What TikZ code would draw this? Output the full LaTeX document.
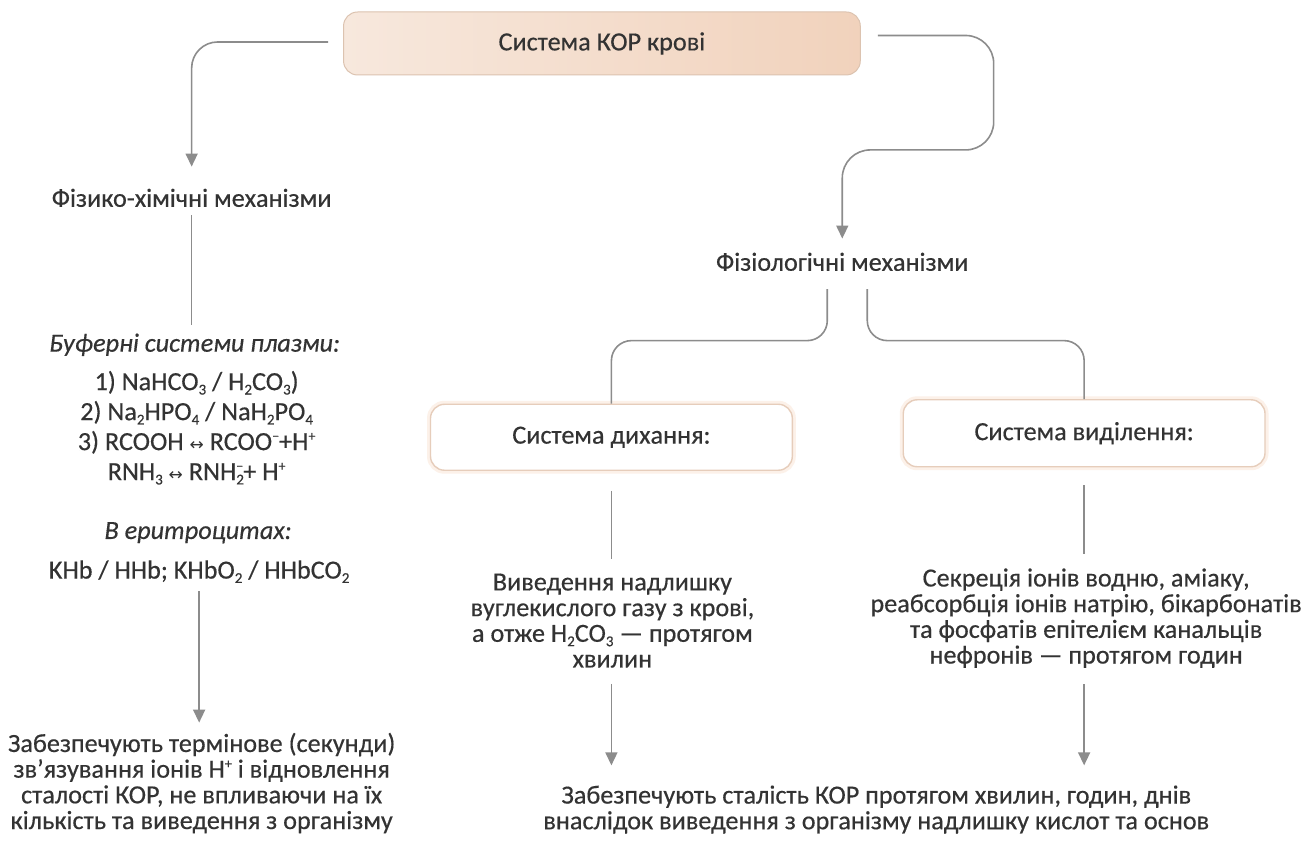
\documentclass[tikz,border=0pt]{standalone}
\usepackage{fontspec}
\setmainfont{Carlito}[FakeBold=0.4]
\newfontfamily\symb{DejaVu Sans}
\usetikzlibrary{arrows.meta}

\definecolor{ink}{HTML}{333333}
\definecolor{wirecol}{HTML}{8C8C8C}
\definecolor{korlight}{HTML}{F7E8DD}
\definecolor{kordark}{HTML}{F1D2BC}
\definecolor{korline}{HTML}{DCC3B0}
\definecolor{boxline}{HTML}{E6CDBB}
\definecolor{boxglow}{HTML}{FCF1E9}

% text settings: tight lines, as in the printed scheme
\newcommand{\nodefont}{\fontsize{26.2}{25.7}\selectfont\lineskiplimit-30pt\relax}
\newcommand{\listfont}{\fontsize{26.2}{30}\selectfont\lineskiplimit-30pt\relax}

% chemistry helpers
\newcommand{\lrarr}{{\symb\fontsize{17}{17}\selectfont ↔}}
\newcommand{\chsub}[1]{\raisebox{-0.35ex}{\fontsize{15}{15}\selectfont #1}}
\newcommand{\chsup}[1]{\raisebox{0.75ex}{\fontsize{14}{14}\selectfont #1}}

\tikzset{
  txt/.style={text=ink, align=center, inner sep=8pt, font=\nodefont},
  sysbox/.style={txt, draw=boxline, line width=1.4pt, fill=white,
    rounded corners=14pt, minimum width=362pt, minimum height=66pt,
    preaction={draw=boxglow, line width=7pt}},
  link/.style={draw=wirecol, line width=1.6pt},
  arrowlink/.style={link, -{Triangle[width=12pt,length=13pt]}},
}

\begin{document}
\begin{tikzpicture}[x=1pt, y=-1pt]
  % Page
  \fill[white] (0,0) rectangle (1314,839);

  % Top box
  \node[txt, draw=korline, line width=1pt, left color=korlight, right color=kordark,
    rounded corners=14pt, minimum width=517pt, minimum height=63pt]
    (kor) at (601.5,43.5) {Система КОР крові};

  % Left branch
  \node[txt] (chem) at (191,198) {Фізико-хімічні механізми};
  \node[txt] (bufhead) at (194,345) {\itshape Буферні системи плазми:};
  \node[txt, font=\listfont] (buflist) at (196,428)
    {1) NaHCO\chsub{3} / H\chsub{2}CO\chsub{3})\\
     2) Na\chsub{2}HPO\chsub{4} / NaH\chsub{2}PO\chsub{4}\\
     3) RCOOH \lrarr{} RCOO\chsup{−}+H\chsup{+}\\
     RNH\chsub{3} \lrarr{} RNH\rlap{\chsub{2}}\chsup{−}+ H\chsup{+}};
  \node[txt] (eryhead) at (197.5,533) {\itshape В еритроцитах:};
  \node[txt] (erylist) at (198.5,572) {KHb / HHb; KHbO\chsub{2} / HHbCO\chsub{2}};
  \node[txt] (chemout) at (201,783.5)
    {Забезпечують термінове (секунди)\\
     зв’язування іонів H\chsup{+} і відновлення\\
     сталості КОР, не впливаючи на їх\\
     кількість та виведення з організму};

  % Right branch
  \node[txt] (physio) at (842,262) {Фізіологічні механізми};
  \node[sysbox] (resp) at (611,437.5) {Система дихання:};
  \node[sysbox, minimum height=67pt] (excr) at (1084,433.5) {Система виділення:};
  \node[txt] (respout) at (612,621)
    {Виведення надлишку\\
     вуглекислого газу з крові,\\
     а отже H\chsub{2}CO\chsub{3} — протягом\\
     хвилин};
  \node[txt] (excrout) at (1086,618.5)
    {Секреція іонів водню, аміаку,\\
     реабсорбція іонів натрію, бікарбонатів\\
     та фосфатів епітелієм канальців\\
     нефронів — протягом годин};
  \node[txt] (total) at (876,810)
    {Забезпечують сталість КОР протягом хвилин, годин, днів\\
     внаслідок виведення з організму надлишку кислот та основ};

  % Connectors
  \draw[arrowlink, rounded corners=26pt, shorten <=15pt, shorten >=14pt]
    ([yshift=1.5pt]kor.west) -| (chem.north);
  \draw[arrowlink, rounded corners=28pt, shorten <=17pt, shorten >=6pt]
    ([yshift=8pt]kor.east) -- ++(133,0) -- ++(0,114.5) -| (physio.north);
  \draw[link] (chem.south) -- (chem.south |- bufhead.north);
  \draw[arrowlink, shorten >=2pt] (erylist.south) -- (erylist.south |- chemout.north);

  \draw[link, rounded corners=20pt, shorten <=10pt]
    ([xshift=-15pt]physio.south) -- ++(0,61.5) -| (resp.north);
  \draw[link, rounded corners=20pt, shorten <=10pt]
    ([xshift=25pt]physio.south) -- ++(0,61.5) -| (excr.north);
  \draw[link, shorten <=20pt, shorten >=6pt] (resp.south) -- (resp.south |- respout.north);
  \draw[link, shorten <=18pt, shorten >=6pt] (excr.south) -- (excr.south |- excrout.north);
  \draw[arrowlink, shorten <=8pt, shorten >=12pt]
    (resp.south |- respout.south) -- (resp.south |- total.north);
  \draw[arrowlink, shorten <=8pt, shorten >=12pt]
    (excr.south |- excrout.south) -- (excr.south |- total.north);
\end{tikzpicture}
\end{document}
